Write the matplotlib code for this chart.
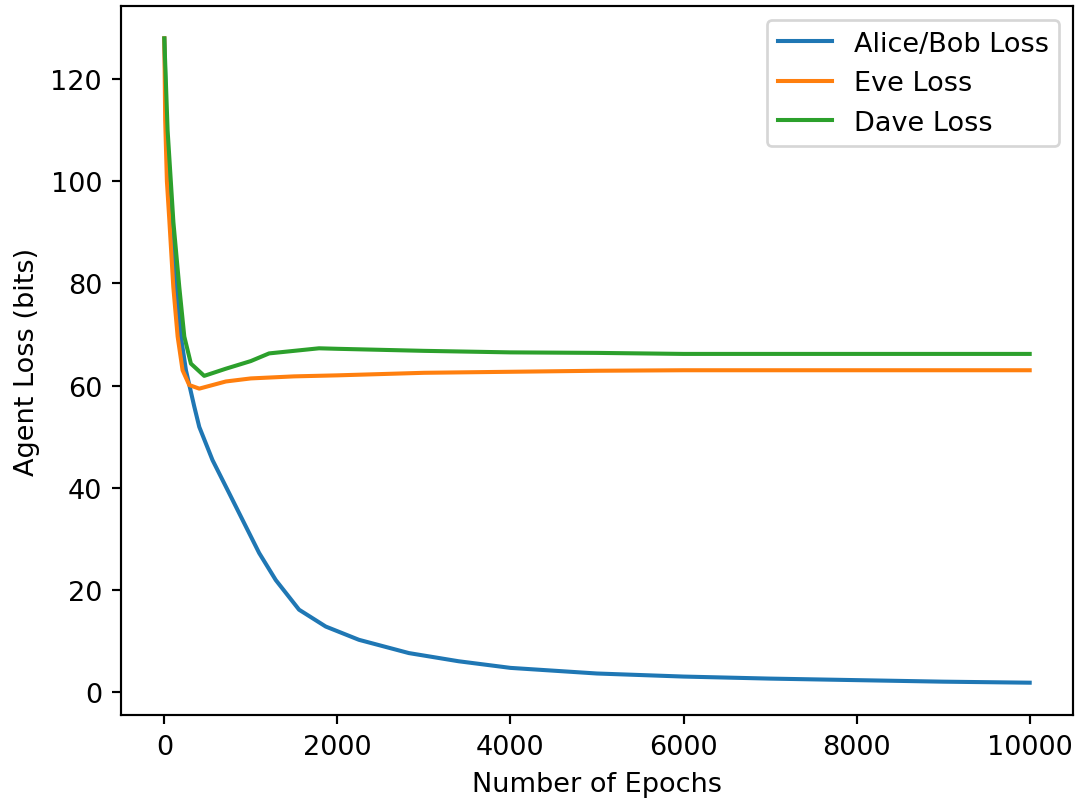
import numpy as np
import matplotlib
matplotlib.use('Agg')
import matplotlib.pyplot as plt

# values (epoch, loss in bits)
ab_epochs = [0, 25, 77, 142, 192, 250, 346, 404, 557, 750, 942, 1096, 1288,
             1557, 1865, 2249, 2826, 3400, 4000, 5000, 6000, 7000, 8000, 9000, 10000]
ab_loss = [128, 110, 92, 79.3, 69.6, 63, 55.9, 51.9, 45.4, 38.9, 32.4, 27.2, 21.9,
           16.1, 12.8, 10.2, 7.6, 6.0, 4.7, 3.6, 3.0, 2.6, 2.3, 2.0, 1.8]

eve_epochs = [0, 10, 30, 58, 104, 154, 211, 288, 404, 711, 1000, 1500, 2000,
              3000, 4000, 5000, 6000, 7000, 8000, 9000, 10000]
eve_loss = [128, 112, 100, 92.4, 79.3, 69.6, 63, 60.1, 59.4, 60.8, 61.4, 61.8, 62.0,
            62.5, 62.7, 62.9, 63.0, 63.0, 63.0, 63.0, 63.0]

dave_epochs = [0, 38, 105, 173, 231, 307, 461, 711, 1000, 1211, 1500,
               1788, 2000, 3000, 4000, 5000, 6000, 7000, 8000, 9000, 10000]
dave_loss = [128, 110, 92, 79.3, 69.6, 64.3, 61.9, 63.3, 64.8, 66.3, 66.8,
             67.3, 67.2, 66.8, 66.5, 66.4, 66.2, 66.2, 66.2, 66.2, 66.2]

fig = plt.figure(figsize=(1075/195, 799/195), dpi=195)
ax = fig.add_axes([0.1126, 0.104, 0.8855, 0.887])

ax.plot(ab_epochs, ab_loss, label='Alice/Bob Loss')
ax.plot(eve_epochs, eve_loss, label='Eve Loss')
ax.plot(dave_epochs, dave_loss, label='Dave Loss')

ax.set_xlabel('Number of Epochs')
ax.set_ylabel('Agent Loss (bits)')
ax.legend(loc='upper right')

fig.savefig('out.png', dpi=195)
